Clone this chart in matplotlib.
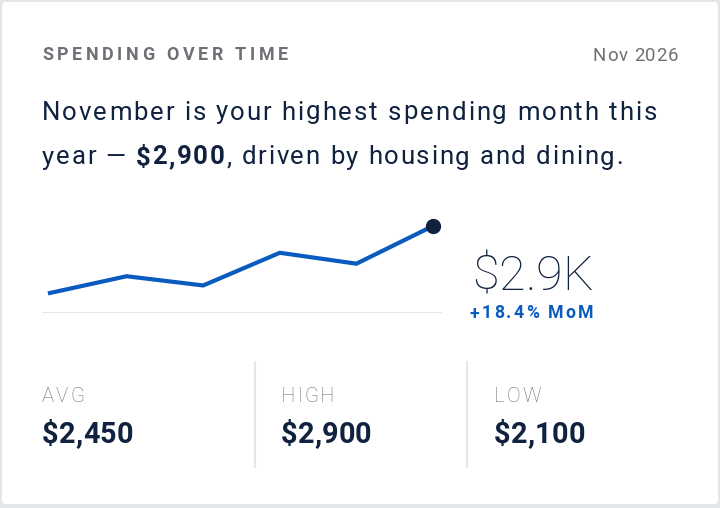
import matplotlib
matplotlib.use("Agg")
import matplotlib.pyplot as plt
from matplotlib.patches import FancyBboxPatch
from matplotlib.font_manager import FontProperties

plt.rcParams['font.family'] = ['Roboto', 'DejaVu Sans']

months = ["Jun", "Jul", "Aug", "Sep", "Oct", "Nov"]
spend = [2100, 2300, 2190, 2580, 2450, 2900]
stat_labels = ["AVG", "HIGH", "LOW"]
stat_values = ["$2,450", "$2,900", "$2,100"]
headline = "$2.9K"
change = "+18.4% MoM"

W, H = 720, 508
navy = "#10223f"
blue = "#0a5bbf"
gray = "#6d7075"
light = "#e3e7ea"

fig = plt.figure(figsize=(W / 100, H / 100), dpi=100)
fig.patch.set_facecolor(light)
r = fig.canvas.get_renderer()

# canvas in pixel coordinates (y down)
bg = fig.add_axes([0, 0, 1, 1])
bg.set_xlim(0, W)
bg.set_ylim(H, 0)
bg.axis("off")
bg.add_patch(FancyBboxPatch((2, 2), 716, 502, boxstyle="round,pad=0,rounding_size=4",
                            fc="white", ec="none"))


def pt(cap_px):
    # roboto cap height is ~0.711 em
    return cap_px / 0.711 * 0.72


def width(s, size, weight):
    fp = FontProperties(family=['Roboto'], size=size, weight=weight)
    return r.get_text_width_height_descent(s, fp, ismath=False)[0]


def tracked(x, y, segs, size, target=None, track=None, ha="left"):
    # segs: (text, weight, color); draws char by char with letter spacing
    n = sum(len(s) for s, _, _ in segs)
    natural = sum(width(s, size, w) for s, w, _ in segs)
    if track is None:
        track = (target - natural) / (n - 1) if target else 0
    total = natural + track * (n - 1)
    x0 = x - total if ha == "right" else x
    k = 0
    for s, w, c in segs:
        for i, ch in enumerate(s):
            if ch != " ":
                bg.text(x0 + width(s[:i], size, w) + k * track, y, ch, fontsize=size,
                        fontweight=w, color=c, va="baseline", ha="left")
            k += 1
        x0 += width(s, size, w)
    return track


tracked(42, 60.3, [("SPENDING OVER TIME", "bold", gray)], pt(12.7), target=246)
tracked(678, 60.7, [("Nov 2026", "normal", gray)], pt(13.3), target=85, ha="right")

fs = pt(18.3)
tracked(42, 119.5, [("November is your highest spending month this", "normal", navy)], fs, target=615)
tracked(42, 164.5, [("year \u2014 ", "normal", navy), ("$2,900", "bold", navy),
                    (", driven by housing and dining.", "normal", navy)], fs, target=581)

# sparkline
ax = fig.add_axes([42 / W, 1 - 313 / H, 400 / W, 103 / H])
ax.axis("off")
idx = list(range(len(spend)))
ax.plot(idx, spend, color=blue, lw=3, solid_joinstyle="miter")
ax.plot(idx[-1], spend[-1], "o", ms=10, color=navy, zorder=5)
ax.axhline(1861, color=light, lw=2)
ax.set_xlim(-0.104, 5.117)
ax.set_ylim(1861, 3091)

tracked(472, 289.5, [(headline, "light", navy)], pt(34.5), target=121)
tracked(470, 318.5, [(change, "bold", blue)], pt(12.5), target=123)

# stats row
xs = [42, 281, 494]
for lab, val, sx in zip(stat_labels, stat_values, xs):
    tracked(sx, 402, [(lab, "light", gray)], pt(14.5), track=2.0)
    tracked(sx, 443, [(val, "bold", navy)], pt(20.5), track=0.2)
for dx in [255, 467]:
    bg.plot([dx, dx], [362, 467], color=light, lw=1.5)

fig.savefig("out.png", dpi=100, facecolor=fig.get_facecolor())
